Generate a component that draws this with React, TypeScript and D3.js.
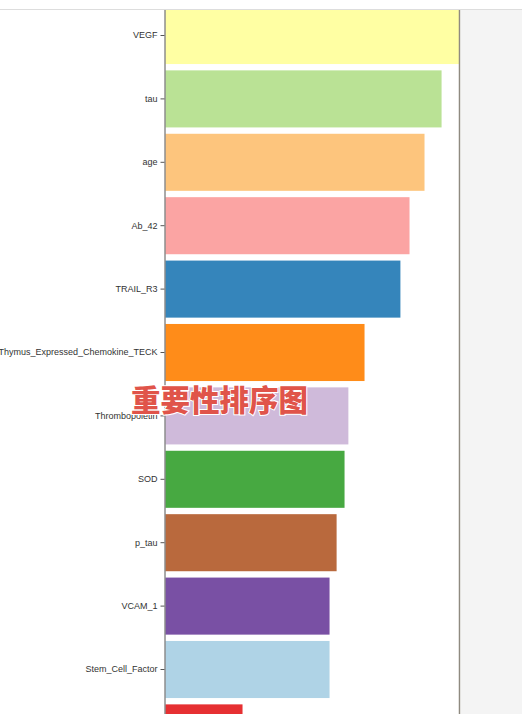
import { useEffect, useRef } from 'react';
import * as d3 from 'd3';

// features sorted by importance (relative to the top one)
const features = [
  'VEGF', 'tau', 'age', 'Ab_42', 'TRAIL_R3', 'Thymus_Expressed_Chemokine_TECK',
  'Thrombopoietin', 'SOD', 'p_tau', 'VCAM_1', 'Stem_Cell_Factor', 'IL_6',
];
const importance = [1.0, 0.939, 0.881, 0.83, 0.799, 0.677, 0.622, 0.609, 0.582, 0.558, 0.558, 0.262];
const barColors = [
  '#ffff99', '#b2df8a', '#fdbf6f', '#fb9a99', '#1f78b4', '#ff7f00',
  '#cab2d6', '#33a02c', '#b15928', '#6a3d9a', '#a6cee3', '#e31a1c',
];
const caption = '重要性排序图';

export default function App() {
  const svgRef = useRef<SVGSVGElement>(null);
  const width = 522;
  const height = 714;

  useEffect(() => {
    if (!svgRef.current) return;
    const svg = d3.select(svgRef.current);
    svg.selectAll('*').remove();

    const left = 164.5;
    const right = 459.5;
    const top = 3.8;
    const step = 63.4;

    // grey side panel
    svg.append('rect').attr('x', 461).attr('y', 0).attr('width', width - 461).attr('height', height).attr('fill', '#f4f4f4');

    const x = d3.scaleLinear().domain([0, d3.max(importance) as number]).range([left + 1, right]);
    const y = d3.scaleBand<string>()
      .domain(features)
      .range([top, top + step * features.length])
      .paddingInner(0.1)
      .paddingOuter(0.05);

    svg.append('g')
      .selectAll('rect')
      .data(features)
      .enter()
      .append('rect')
      .attr('x', x(0))
      .attr('y', d => y(d) as number)
      .attr('width', (d, i) => x(importance[i]) - x(0))
      .attr('height', y.bandwidth())
      .attr('fill', (d, i) => barColors[i])
      .attr('fill-opacity', 0.9);

    // y axis
    const axis = svg.append('g')
      .attr('transform', `translate(${left},0)`)
      .call(d3.axisLeft(y).tickSize(4).tickSizeOuter(0));
    axis.select('.domain').attr('stroke', '#555');
    axis.selectAll('.tick line').attr('stroke', '#555');
    axis.selectAll('.tick text')
      .attr('fill', '#333')
      .attr('font-size', '9px')
      .style('font-family', '"Liberation Sans", Arial, sans-serif');

    // right border of plot
    svg.append('line')
      .attr('x1', right).attr('x2', right)
      .attr('y1', 0).attr('y2', height)
      .attr('stroke', '#8f8a80')
      .attr('stroke-width', 1.5);

    // top strip
    svg.append('rect').attr('x', 0).attr('y', 0).attr('width', width).attr('height', 9).attr('fill', '#ffffff');
    svg.append('line')
      .attr('x1', 0).attr('x2', width)
      .attr('y1', 9.5).attr('y2', 9.5)
      .attr('stroke', '#dddddd');

    // overlay caption
    svg.append('text')
      .attr('x', 131)
      .attr('y', 411)
      .attr('font-size', '29.5px')
      .attr('font-weight', '900')
      .attr('fill', '#e0544a')
      .attr('stroke', '#ffffff')
      .attr('stroke-width', 2)
      .style('paint-order', 'stroke')
      .style('font-family', '"Noto Sans CJK SC", sans-serif')
      .text(caption);
  }, []);

  return (
    <svg
      ref={svgRef}
      width={width}
      height={height}
      style={{ position: 'absolute', left: 0, top: 0, background: '#ffffff' }}
    />
  );
}
